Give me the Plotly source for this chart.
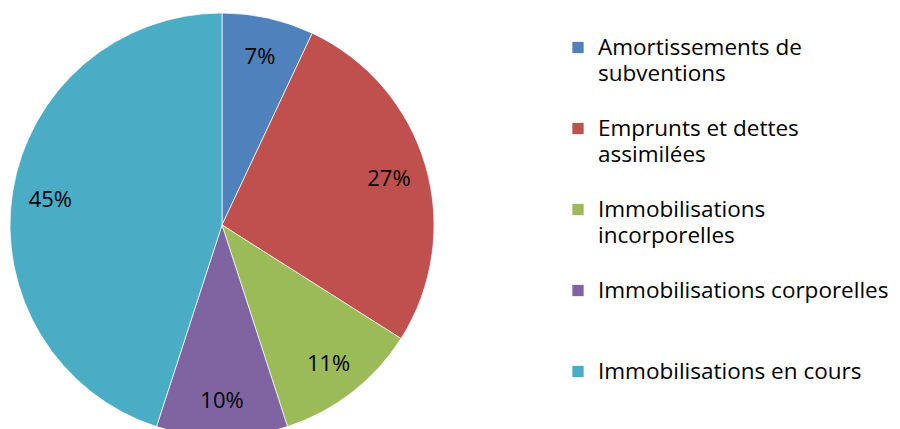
import plotly.graph_objects as go

categories = [
    "Amortissements de<br>subventions",
    "Emprunts et dettes<br>assimilées",
    "Immobilisations<br>incorporelles",
    "Immobilisations corporelles",
    "Immobilisations en cours",
]
values = [7, 27, 11, 10, 45]
colors = ["#4F81BD", "#C0504D", "#9BBB59", "#8064A2", "#4BACC6"]

W, H = 900, 429
FONT = "Open Sans"
dom = dict(x=[2 / W, 426 / W], y=[0, 1 - 5 / H])

# legend labels: padded to 3 lines so each entry takes the same height
def pad(lbl, last=False):
    n = lbl.count("<br>") + 1
    body = "<br>".join('<span style="font-size:22.5px">%s</span>' % p for p in lbl.split("<br>"))
    return body if last else body + "<br> " * (3 - n)

leg_labels = [pad(c, i == len(categories) - 1) for i, c in enumerate(categories)]

fig = go.Figure()
fig.add_trace(go.Pie(
    labels=leg_labels,
    values=values,
    sort=False,
    direction="clockwise",
    rotation=0,
    marker=dict(colors=colors, line=dict(color="white", width=0.7)),
    textinfo="none",
    domain=dom,
    showlegend=True,
    hoverinfo="label+percent",
))
# transparent ring used only to place the percentage labels
fig.add_trace(go.Pie(
    labels=leg_labels,
    values=values,
    sort=False,
    direction="clockwise",
    rotation=0,
    hole=0.64,
    marker=dict(colors=["rgba(0,0,0,0)"] * len(values), line=dict(width=0)),
    texttemplate="%{percent:.0%}",
    textposition="inside",
    insidetextorientation="horizontal",
    textfont=dict(family=FONT, size=22, color="black"),
    domain=dom,
    showlegend=False,
    hoverinfo="skip",
))
fig.update_layout(
    width=W, height=H,
    margin=dict(l=0, r=0, t=0, b=0),
    paper_bgcolor="white",
    plot_bgcolor="white",
    font=dict(family=FONT, size=20, color="black"),
    legend=dict(
        x=550 / W, xanchor="left",
        y=1 - 20 / H, yanchor="top",
        valign="top",
        font=dict(family=FONT, size=20, color="black"),
        bgcolor="rgba(0,0,0,0)",
    ),
)
fig.write_html("out.html")
